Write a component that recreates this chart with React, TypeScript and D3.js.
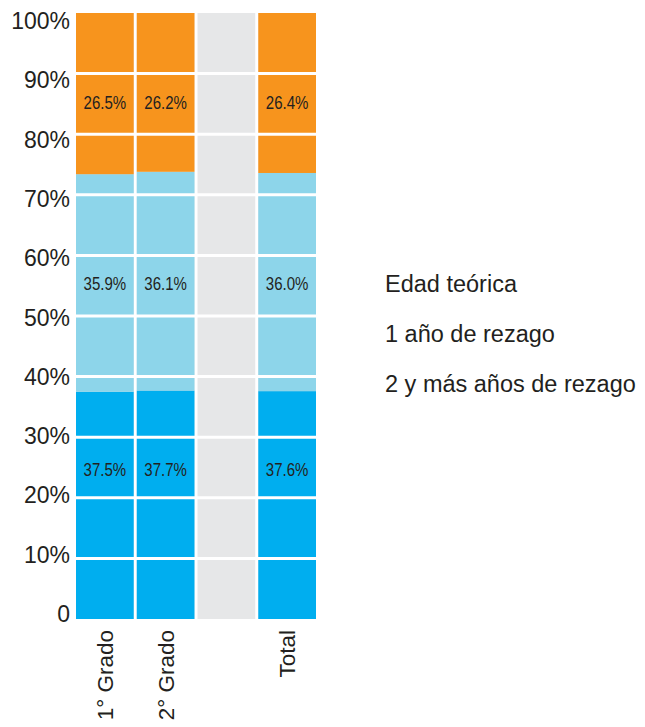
import React from "react";
import * as d3 from "d3";

const categories = ["1° Grado", "2° Grado", "", "Total"];
const seriesNames = ["Edad teórica", "1 año de rezago", "2 y más años de rezago"];
const edadTeorica = [37.5, 37.7, null, 37.6];
const unAnio = [35.9, 36.1, null, 36.0];
const dosYMas = [26.5, 26.2, null, 26.4];
const labelAt = [24.6, 55.2, 85.2];
const yTicks = [0, 10, 20, 30, 40, 50, 60, 70, 80, 90, 100];
const tickLabels = ["0", "10%", "20%", "30%", "40%", "50%", "60%", "70%", "80%", "90%", "100%"];

const colors = ["#00AEEF", "#8DD5EA", "#F7941D"];
const FONT = "'Liberation Sans', Arial, Helvetica, sans-serif";
const TEXT = "#231F20";

export default function App() {
  const W = 645, H = 727;
  const left = 76, right = 316, top = 13, bottom = 619;
  const x = d3.scaleBand<string>().domain(categories.map((c, i) => String(i))).range([left, right]).paddingInner(0.05).paddingOuter(0);
  const y = d3.scaleLinear().domain([0, 100]).range([bottom, top]);
  const yLab = d3.scaleLinear().domain([0, 100]).range([614, 21]);

  const rows = categories.map((c, i) => ({
    key: String(i),
    s0: edadTeorica[i],
    s1: unAnio[i],
    s2: dosYMas[i],
  }));
  const valid = rows.filter((r) => r.s0 != null) as any[];
  const stack = d3.stack<any>().keys(["s0", "s1", "s2"]);
  const stacked = stack(valid);

  return (
    <svg width={W} height={H} style={{ position: "absolute", left: 0, top: 0, background: "#fff" }} fontFamily={FONT}>
      {rows.map((r) => (
        <rect key={"bg" + r.key} x={x(r.key)} y={y(100)} width={x.bandwidth()} height={y(0) - y(100)} fill="#E6E7E8" />
      ))}
      {stacked.map((layer, si) => (
        <g key={si} fill={colors[si]}>
          {layer.map((d: any) => {
            const k = d.data.key;
            const isTop = si === stacked.length - 1;
            const y1 = isTop ? y(100) : y(d[1]);
            return <rect key={k} x={x(k)} y={y1} width={x.bandwidth()} height={y(d[0]) - y1} />;
          })}
        </g>
      ))}
      {yTicks.filter((t) => t > 0 && t < 100).map((t) => (
        <line key={"g" + t} x1={left} x2={right} y1={y(t)} y2={y(t)} stroke="#fff" strokeWidth={3} />
      ))}
      {stacked.map((layer, si) =>
        layer.map((d: any) => {
          const k = d.data.key;
          const v = d[1] - d[0];
          const cx = (x(k) as number) + x.bandwidth() / 2;
          const cy = y(labelAt[si]);
          return (
            <text key={"l" + si + k} transform={`translate(${cx},${cy + 6}) scale(0.86,1)`} textAnchor="middle" fontSize={17.5} fill={TEXT}>
              {v.toFixed(1)}%
            </text>
          );
        })
      )}
      {yTicks.map((t, i) => (
        <text key={"t" + t} x={70} y={yLab(t) + 8} textAnchor="end" fontSize={23} fill={TEXT}>
          {tickLabels[i]}
        </text>
      ))}
      {rows.map((r, i) => {
        const cx = (x(r.key) as number) + x.bandwidth() / 2 + 8;
        return (
          <text key={"c" + i} transform={`translate(${cx},${bottom + 11}) rotate(-90)`} textAnchor="end" fontSize={22.5} fill={TEXT}>
            {categories[i]}
          </text>
        );
      })}
      {seriesNames.map((n, i) => (
        <text key={"lg" + i} x={385} y={292 + i * 50} fontSize={23.5} fill={TEXT}>
          {n}
        </text>
      ))}
    </svg>
  );
}
